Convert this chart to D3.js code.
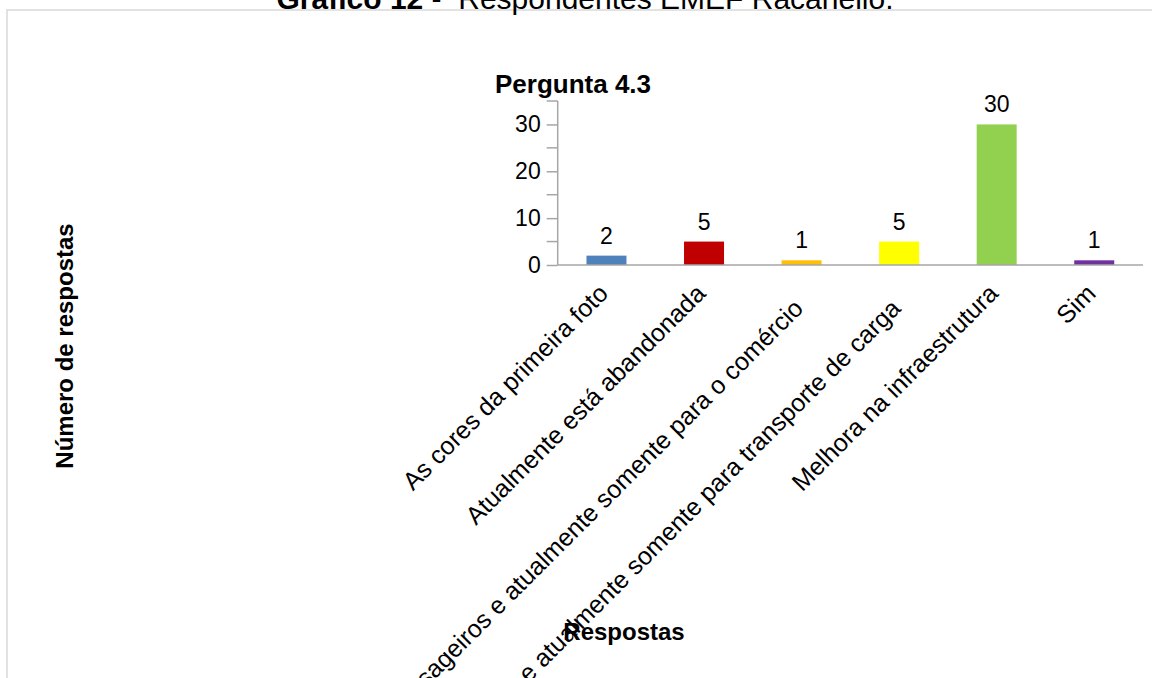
<!DOCTYPE html>
<html>
<head>
<meta charset="utf-8">
<script src="https://cdn.jsdelivr.net/npm/d3@7"></script>
<style>
  body { margin: 0; background: #fff; }
  svg { display: block; font-family: "Liberation Sans", Arial, sans-serif; }
</style>
</head>
<body>
<svg id="chart" width="1152" height="678"></svg>
<script>
// data
const categories = [
    "As cores da primeira foto",
    "Atualmente está abandonada",
    "Era usada para transporte de passageiros e atualmente somente para o comércio",
    "Era usada para transporte de passageiros e atualmente somente para transporte de carga",
    "Melhora na infraestrutura",
    "Sim"
];
const values = [2, 5, 1, 5, 30, 1];
const majorTicks = [0, 10, 20, 30];
const minorTicks = [5, 15, 25, 35];

const palette = ["#4f81bd", "#c00000", "#ffc000", "#ffff00", "#92d050", "#7030a0"];
const axisColor = "#a6a6a6";

const svg = d3.select("#chart");

// outer frame (runs off the right and bottom edges)
svg.append("rect")
    .attr("x", 7).attr("y", 10)
    .attr("width", 1300).attr("height", 800)
    .attr("fill", "none")
    .attr("stroke", "#d9d9d9")
    .attr("stroke-width", 1.5);

// header, cut by the top edge
const header = svg.append("text")
    .attr("x", 585).attr("y", 9)
    .attr("text-anchor", "middle")
    .style("font-size", "30px")
    .attr("xml:space", "preserve");
header.append("tspan").style("font-weight", "bold").text("Gráfico 12");
header.append("tspan").text(" -  Respondentes EMEF Racanello.");

const x0 = 557.7, x1 = 1143, yTop = 101, yBase = 265;

const xScale = d3.scaleBand()
    .domain(categories)
    .range([x0, x1])
    .paddingInner(0.59)
    .paddingOuter(0.295);

const yScale = d3.scaleLinear()
    .domain([0, 35])
    .range([yBase, yTop]);

// title
svg.append("text")
    .attr("x", 573).attr("y", 93)
    .attr("text-anchor", "middle")
    .style("font-size", "26px")
    .style("font-weight", "bold")
    .text("Pergunta 4.3");

// y axis with minor ticks
const yAxis = svg.append("g")
    .attr("transform", "translate(" + x0 + ",0)")
    .call(d3.axisLeft(yScale).tickValues(majorTicks).tickSize(11).tickPadding(6));
yAxis.select(".domain").remove();
yAxis.selectAll(".tick line").attr("stroke", axisColor).attr("stroke-width", 1.5);
yAxis.selectAll(".tick text")
    .attr("fill", "#000")
    .style("font-size", "23px")
    .style("font-family", "Liberation Sans, Arial, sans-serif");

svg.append("g")
    .selectAll("line")
    .data(minorTicks)
    .enter().append("line")
    .attr("x1", x0 - 11).attr("x2", x0)
    .attr("y1", d => yScale(d)).attr("y2", d => yScale(d))
    .attr("stroke", axisColor).attr("stroke-width", 1.5);

svg.append("line")
    .attr("x1", x0).attr("x2", x0)
    .attr("y1", yTop).attr("y2", yBase)
    .attr("stroke", axisColor).attr("stroke-width", 1.5);

// bars
svg.append("g")
    .selectAll("rect")
    .data(values)
    .enter().append("rect")
    .attr("x", (d, i) => xScale(categories[i]))
    .attr("y", d => yScale(d))
    .attr("width", xScale.bandwidth())
    .attr("height", d => yBase - yScale(d))
    .attr("fill", (d, i) => palette[i]);

// x axis baseline
svg.append("line")
    .attr("x1", x0).attr("x2", x1)
    .attr("y1", yBase).attr("y2", yBase)
    .attr("stroke", axisColor).attr("stroke-width", 1.5);

// value labels
svg.append("g")
    .selectAll("text")
    .data(values)
    .enter().append("text")
    .attr("x", (d, i) => xScale(categories[i]) + xScale.bandwidth() / 2)
    .attr("y", d => yScale(d) - 12)
    .attr("text-anchor", "middle")
    .style("font-size", "23px")
    .text(d => d);

// rotated category labels; the two long ones sit a bit lower
svg.append("g")
    .selectAll("text")
    .data(categories)
    .enter().append("text")
    .attr("transform", d => {
        const cx = xScale(d) + xScale.bandwidth() / 2 + 3;
        const cy = yBase + 30 + (d.length > 50 ? 15 : 0);
        return "translate(" + cx + "," + cy + ") rotate(-45)";
    })
    .attr("text-anchor", "end")
    .style("font-size", "25px")
    .text(d => d);

// axis titles
svg.append("text")
    .attr("x", 624).attr("y", 640)
    .attr("text-anchor", "middle")
    .style("font-size", "24px")
    .style("font-weight", "bold")
    .text("Respostas");

svg.append("text")
    .attr("transform", "translate(73,346) rotate(-90)")
    .attr("text-anchor", "middle")
    .style("font-size", "24px")
    .style("font-weight", "bold")
    .text("Número de respostas");
</script>
</body>
</html>
